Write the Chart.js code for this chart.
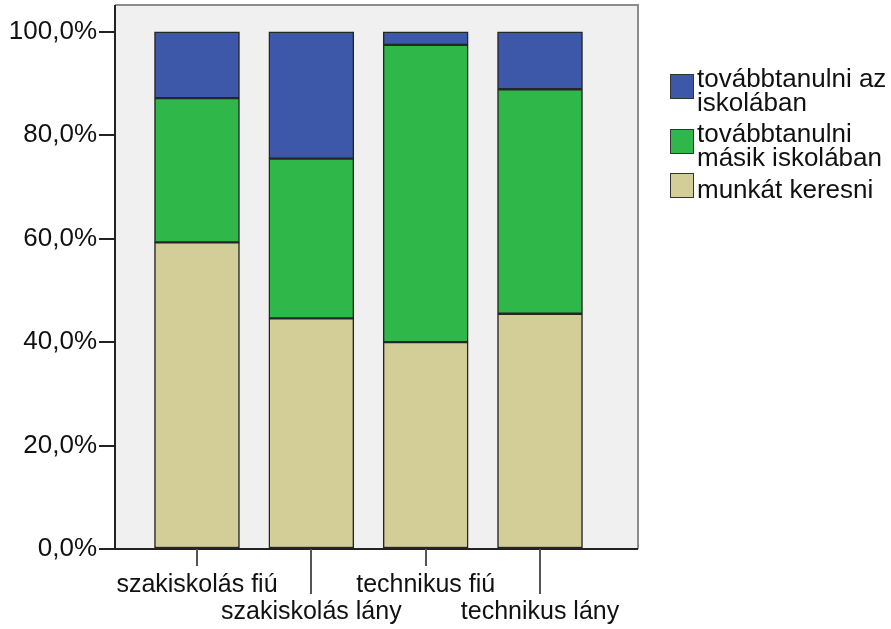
<!DOCTYPE html>
<html>
<head>
    <title>Továbbtanulási tervek</title>
    <script src="https://cdn.jsdelivr.net/npm/chart.js@4.4.1/dist/chart.umd.min.js"></script>
    <style>
        body { margin: 0; background: #fff; font-family: "Liberation Sans", Arial, sans-serif; }
        .wrap { position: relative; width: 891px; height: 629px; }
        #legend { position: absolute; left: 670px; top: 67px; }
        .item { display: flex; align-items: center; margin-bottom: 8px; }
        .box { width: 22px; height: 23px; border: 1.5px solid #333; margin-right: 3px; transform: translateY(-4px); flex: none; }
        .txt { font-size: 26px; line-height: 23.5px; color: #111; white-space: nowrap; }
    </style>
</head>
<body>
    <div class="wrap">
        <canvas id="myChart"></canvas>
        <div id="legend"></div>
    </div>

    <script>
        // categories (x), staggered on two rows like the original
        const categories = ['szakiskolás fiú', 'szakiskolás lány', 'technikus fiú', 'technikus lány'];
        const catPos = [1, 2, 3, 4];

        // series, in stacking order (bottom -> top)
        const seriesNames = [['munkát keresni'], ['továbbtanulni', 'másik iskolában'], ['továbbtanulni az', 'iskolában']];
        const munkat = [59.3, 44.6, 40.0, 45.5];
        const masik = [27.9, 30.9, 57.5, 43.4];
        const azIskolaban = [12.8, 24.5, 2.5, 11.1];
        const seriesColors = ['#d3ce97', '#30b74a', '#3d57a9'];

        const yTicks = [0, 20, 40, 60, 80, 100];

        const seriesValues = [munkat, masik, azIskolaban];

        const datasets = seriesValues.map(function (vals, i) {
            return {
                label: seriesNames[i].join(' '),
                data: vals.map(function (v, j) { return { x: catPos[j], y: v }; }),
                backgroundColor: seriesColors[i],
                borderColor: '#262626',
                borderWidth: 1.5,
                borderSkipped: false,
                barThickness: 85
            };
        });

        // plot frame + grey background
        const framePlugin = {
            id: 'frame',
            beforeDatasetsDraw(chart) {
                const a = chart.chartArea, c = chart.ctx;
                c.save();
                c.fillStyle = '#f0f0f0';
                c.fillRect(a.left, a.top, a.right - a.left, a.bottom - a.top);
                c.restore();
            },
            afterDraw(chart) {
                const a = chart.chartArea, c = chart.ctx;
                c.save();
                c.lineWidth = 2;
                c.strokeStyle = '#8c8c8c';
                c.beginPath();
                c.moveTo(a.left, a.top); c.lineTo(a.right, a.top); c.lineTo(a.right, a.bottom);
                c.stroke();
                c.strokeStyle = '#222';
                c.beginPath();
                c.moveTo(a.left, a.top); c.lineTo(a.left, a.bottom); c.lineTo(a.right, a.bottom);
                c.stroke();
                // x tick marks, long for the second label row
                const xs = chart.scales.x;
                c.strokeStyle = '#555';
                c.lineWidth = 2;
                catPos.forEach(function (p, i) {
                    const px = Math.round(xs.getPixelForValue(p));
                    c.beginPath();
                    c.moveTo(px, a.bottom);
                    c.lineTo(px, a.bottom + (i % 2 ? 45 : 17));
                    c.stroke();
                });
                c.restore();
            }
        };

        const ctx = document.getElementById('myChart');
        const myChart = new Chart(ctx, {
            type: 'bar',
            data: { datasets: datasets },
            options: {
                responsive: true,
                maintainAspectRatio: false,
                animation: false,
                layout: { padding: { left: 0, right: 253, top: 5, bottom: 0 } },
                plugins: { legend: { display: false }, tooltip: { enabled: false } },
                scales: {
                    x: {
                        type: 'linear',
                        stacked: true,
                        offset: false,
                        min: 0.283,
                        max: 4.857,
                        afterBuildTicks: function (s) { s.ticks = catPos.map(function (v) { return { value: v }; }); },
                        afterFit: function (s) { s.height = 80; s.paddingLeft = 0; s.paddingRight = 0; },
                        grid: { display: false, offset: false },
                        border: { display: false },
                        ticks: {
                            autoSkip: false,
                            maxRotation: 0,
                            padding: 15,
                            color: '#111',
                            font: { family: 'Liberation Sans', size: 25, lineHeight: 1.08 },
                            callback: function (v) {
                                const i = catPos.indexOf(v);
                                if (i < 0) return '';
                                return i % 2 ? ['', categories[i]] : [categories[i]];
                            }
                        }
                    },
                    y: {
                        stacked: true,
                        min: 0,
                        max: 105.2,
                        afterBuildTicks: function (s) { s.ticks = yTicks.map(function (v) { return { value: v }; }); },
                        afterFit: function (s) { s.width = 115; s.paddingTop = 0; s.paddingBottom = 0; },
                        grid: { drawOnChartArea: false, drawTicks: true, tickLength: 16, color: '#222', lineWidth: 2 },
                        border: { display: false },
                        ticks: {
                            padding: 2,
                            color: '#111',
                            font: { family: 'Liberation Sans', size: 26 },
                            callback: function (v) { return v.toFixed(1).replace('.', ',') + '%'; }
                        }
                    }
                }
            },
            plugins: [framePlugin]
        });

        // legend, top series first
        let html = '';
        for (let i = seriesNames.length - 1; i >= 0; i--) {
            html += '<div class="item"><div class="box" style="background:' + seriesColors[i] + '"></div>' +
                '<div class="txt">' + seriesNames[i].join('<br>') + '</div></div>';
        }
        document.getElementById('legend').innerHTML = html;
    </script>
</body>
</html>
